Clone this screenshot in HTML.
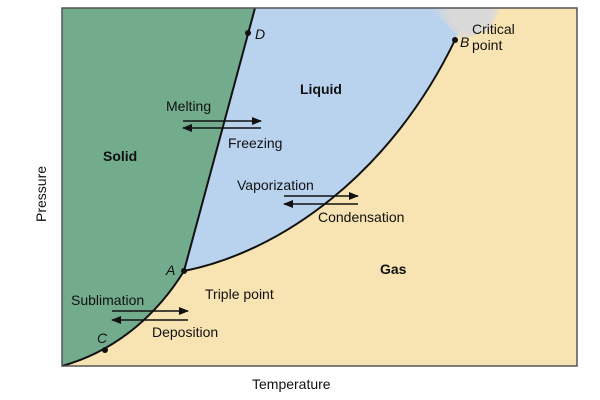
<!DOCTYPE html>
<html><head><style>
body{margin:0;background:#fff;width:600px;height:400px;overflow:hidden}
svg{display:block}
text{font-family:"Liberation Sans",sans-serif;font-size:14px;fill:#111}
</style></head><body>
<svg width="600" height="400" viewBox="0 0 600 400">
<defs>
<marker id="ah" markerWidth="10" markerHeight="8" refX="9" refY="4" orient="auto" markerUnits="userSpaceOnUse">
<path d="M0,0 L10,4 L0,8 z" fill="#111"/></marker>
<radialGradient id="gr" cx="470" cy="10" r="40" gradientUnits="userSpaceOnUse">
<stop offset="0.5" stop-color="#d9d9d9"/><stop offset="1" stop-color="#d9d9d9" stop-opacity="0"/></radialGradient>
</defs>
<rect x="62" y="8" width="515" height="358" fill="#f8e3b3"/>
<path d="M184,271 C280,252 390,175 455,40 C462,26 470,15 476,8 L255,8 Z" fill="#b9d3ee"/>
<path d="M430,8 L500,8 L490,30 L462,40 Z" fill="url(#gr)"/>
<path d="M62,8 L255,8 L184,271 C160,310 120,350 62,366 Z" fill="#72ac8d"/>
<path d="M62,366 C120,350 160,310 184,271" fill="none" stroke="#111" stroke-width="2"/>
<path d="M184,271 C280,252 390,175 455,40" fill="none" stroke="#111" stroke-width="2"/>
<line x1="184" y1="271" x2="255" y2="8" stroke="#111" stroke-width="2"/>
<rect x="62" y="8" width="515" height="358" fill="none" stroke="#555" stroke-width="1.5"/>
<circle cx="184" cy="271" r="3" fill="#111"/>
<circle cx="248" cy="33" r="3" fill="#111"/>
<circle cx="455" cy="40" r="3" fill="#111"/>
<circle cx="105" cy="350" r="3" fill="#111"/>
<g stroke="#111" stroke-width="1.5" marker-end="url(#ah)">
<line x1="183" y1="121" x2="261" y2="121"/>
<line x1="261" y1="128" x2="183" y2="128"/>
<line x1="284" y1="196" x2="358" y2="196"/>
<line x1="358" y1="204" x2="284" y2="204"/>
<line x1="112" y1="311" x2="188" y2="311"/>
<line x1="188" y1="320" x2="112" y2="320"/>
</g>
<text x="300" y="94" style="font-weight:bold">Liquid</text>
<text x="103" y="161" style="font-weight:bold">Solid</text>
<text x="380" y="274" style="font-weight:bold">Gas</text>
<text x="166" y="111">Melting</text>
<text x="228" y="148">Freezing</text>
<text x="237" y="190">Vaporization</text>
<text x="318" y="222">Condensation</text>
<text x="71" y="305">Sublimation</text>
<text x="152" y="337">Deposition</text>
<text x="205" y="299">Triple point</text>
<text x="472" y="34">Critical</text>
<text x="472" y="50">point</text>
<text x="255" y="39" style="font-style:italic">D</text>
<text x="460" y="47" style="font-style:italic">B</text>
<text x="166" y="275" style="font-style:italic">A</text>
<text x="97" y="343" style="font-style:italic">C</text>
<text x="252" y="389">Temperature</text>
<text transform="translate(46,222) rotate(-90)">Pressure</text>
</svg>
</body></html>
